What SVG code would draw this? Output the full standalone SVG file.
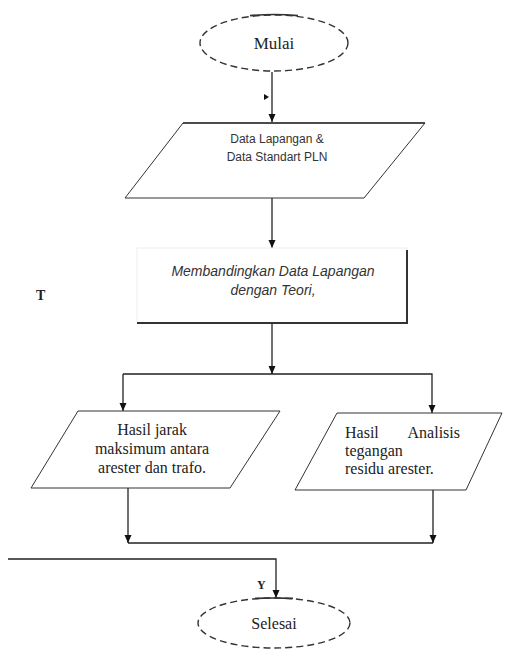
<svg xmlns="http://www.w3.org/2000/svg" width="508" height="652" viewBox="0 0 508 652">
<defs>
<marker id="arr" markerWidth="8" markerHeight="8" refX="8" refY="4" orient="auto" markerUnits="userSpaceOnUse" viewBox="0 0 8 8">
<path d="M0,0.5 L8,4 L0,7.5 Z" fill="#111"/>
</marker>
</defs>
<style>
.term{fill:#fff;stroke:#333;stroke-width:1.4;stroke-dasharray:7,4}
.io{fill:#fff;stroke:#333;stroke-width:1}
.ln{fill:none;stroke:#222;stroke-width:1.3}
.serif{font-family:"Liberation Serif","Times New Roman",serif;fill:#222}
.sans{font-family:"Liberation Sans",Arial,sans-serif;fill:#333}
</style>
<rect width="508" height="652" fill="#fff"/>

<g id="connectors">
<path class="ln" d="M272,72 L272,122" marker-end="url(#arr)"/>
<path d="M264,94 L269,97 L264,100 Z" fill="#111"/>
<path class="ln" d="M272,198 L272,248" marker-end="url(#arr)"/>
<path class="ln" d="M272,323 L272,374" marker-end="url(#arr)"/>
<path class="ln" d="M123,374 L432,374 L432,413" marker-end="url(#arr)"/>
<path class="ln" d="M123,374 L123,411" marker-end="url(#arr)"/>
<path class="ln" d="M128,543 L433,543"/>
<path class="ln" d="M128,488 L128,543" marker-end="url(#arr)"/>
<path class="ln" d="M433,490 L433,543" marker-end="url(#arr)"/>
<path class="ln" d="M8,559 L276,559 L276,598" marker-end="url(#arr)"/>
<text x="36" y="300" class="serif" font-size="14" font-weight="bold">T</text>
<text x="257" y="589" class="serif" font-size="12" font-weight="bold">Y</text>
</g>

<g id="mulai">
<ellipse class="term" cx="274" cy="43" rx="74" ry="28"/>
<path d="M250,15.6 Q274,13.5 298,15.6" fill="none" stroke="#333" stroke-width="1.6"/>
<text x="274" y="49" class="serif" font-size="17" text-anchor="middle">Mulai</text>
</g>

<g id="data">
<polygon class="io" points="183,123 425,123 364,198 125,198"/>
<line x1="183" y1="123" x2="425" y2="123" stroke="#333" stroke-width="1.6"/>
<text x="277" y="143" class="sans" font-size="12" text-anchor="middle">Data Lapangan &amp;</text>
<text x="277" y="161" class="sans" font-size="12" text-anchor="middle">Data Standart PLN</text>
</g>

<g id="proses">
<rect x="137" y="248" width="270" height="75" fill="#fff" stroke="#eee" stroke-width="1"/>
<path d="M407,250 L407,323 L137,323" fill="none" stroke="#333" stroke-width="2"/>
<text x="273" y="276" class="sans" font-size="14" font-style="italic" text-anchor="middle">Membandingkan Data Lapangan</text>
<text x="273" y="295" class="sans" font-size="14" font-style="italic" text-anchor="middle">dengan Teori,</text>
</g>

<g id="hasil-jarak">
<polygon class="io" points="78,411 280,411 230,488 31,488"/>
<text x="152" y="435" class="serif" font-size="16" text-anchor="middle">Hasil jarak</text>
<text x="152" y="454" class="serif" font-size="16" text-anchor="middle">maksimum antara</text>
<text x="152" y="473" class="serif" font-size="16" text-anchor="middle">arester dan trafo.</text>
</g>

<g id="hasil-analisis">
<polygon class="io" points="337,413 502,413 466,490 295,490"/>
<text x="345" y="438" class="serif" font-size="16">Hasil</text>
<text x="460" y="438" class="serif" font-size="16" text-anchor="end">Analisis</text>
<text x="345" y="456" class="serif" font-size="16">tegangan</text>
<text x="345" y="474" class="serif" font-size="16">residu arester.</text>
</g>

<g id="selesai">
<ellipse class="term" cx="274" cy="623" rx="76" ry="25"/>
<path d="M255,598.4 Q274,597.5 293,598.4" fill="none" stroke="#333" stroke-width="1.6"/>
<text x="274" y="629" class="serif" font-size="16" text-anchor="middle">Selesai</text>
</g>
</svg>
